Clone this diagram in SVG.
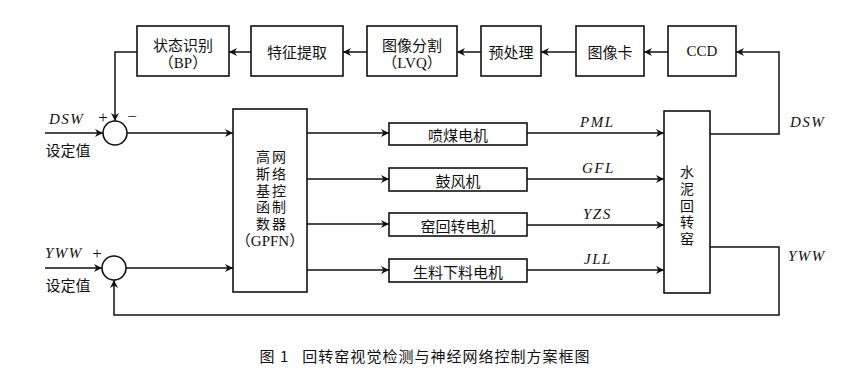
<svg xmlns="http://www.w3.org/2000/svg" width="852" height="383" viewBox="0 0 852 383">
<style>
.b{fill:#fff;stroke:#111;stroke-width:1.6}
.l{fill:none;stroke:#111;stroke-width:1.5}
.t{font-family:"Noto Sans CJK SC","Liberation Serif",sans-serif;font-size:15px;fill:#111;text-anchor:middle;dominant-baseline:central}
.v{font-family:"Noto Sans CJK SC",sans-serif;font-size:14px;fill:#111;writing-mode:vertical-rl;letter-spacing:2.6px}
.s{font-family:"Liberation Serif","Noto Sans CJK SC",serif;font-size:15px;fill:#111;text-anchor:middle;dominant-baseline:central}
.i{font-family:"Liberation Serif",serif;font-style:italic;font-size:15px;fill:#111;letter-spacing:1.5px}
.p{font-family:"Liberation Serif",serif;font-size:17px;fill:#111;text-anchor:middle;dominant-baseline:central}
</style>
<defs>
<marker id="a" viewBox="0 0 10 10" refX="10" refY="5" markerWidth="10" markerHeight="8" markerUnits="userSpaceOnUse" orient="auto">
<path d="M0,0 L10,5 L0,10 L3,5 Z" fill="#111"/>
</marker>
</defs>
<rect width="852" height="383" fill="#fff"/>
<g id="bp"><rect class="b" x="137" y="26" width="92" height="50"/><text class="t" x="183" y="44">状态识别</text><text class="s" x="183" y="63">（BP）</text></g>
<g id="feature"><rect class="b" x="251" y="26" width="92" height="50"/><text class="t" x="297" y="51">特征提取</text></g>
<g id="lvq"><rect class="b" x="367" y="26" width="90" height="50"/><text class="t" x="412" y="44">图像分割</text><text class="s" x="412" y="63">（LVQ）</text></g>
<g id="pre"><rect class="b" x="481" y="26" width="60" height="50"/><text class="t" x="511" y="51">预处理</text></g>
<g id="card"><rect class="b" x="576" y="26" width="68" height="50"/><text class="t" x="610" y="51">图像卡</text></g>
<g id="ccd"><rect class="b" x="668" y="26" width="68" height="50"/><text class="s" x="702" y="51">CCD</text></g>
<g id="sum1"><circle class="b" cx="115" cy="133" r="12"/><text class="p" x="103" y="117">+</text><text class="p" x="132" y="116">−</text></g>
<g id="sum2"><circle class="b" cx="114" cy="268" r="12"/></g>
<g id="gpfn"><rect class="b" x="233" y="109" width="74" height="183"/>
<text class="v" x="263" y="150">高斯基函数</text><text class="v" x="279" y="150">网络控制器</text><text class="s" x="270" y="241">（GPFN）</text></g>
<g id="m1"><rect class="b" x="389" y="123" width="138" height="22"/><text class="t" x="458" y="134">喷煤电机</text></g>
<g id="m2"><rect class="b" x="389" y="168" width="138" height="23"/><text class="t" x="458" y="180">鼓风机</text></g>
<g id="m3"><rect class="b" x="389" y="213" width="138" height="23"/><text class="t" x="458" y="225">窑回转电机</text></g>
<g id="m4"><rect class="b" x="389" y="259" width="138" height="23"/><text class="t" x="458" y="271">生料下料电机</text></g>
<g id="kiln"><rect class="b" x="664" y="111" width="46" height="182"/>
<text class="v" x="687" y="165">水泥回转窑</text></g>
<g id="connectors">
<path class="l" marker-end="url(#a)" d="M251,52 H229"/>
<path class="l" marker-end="url(#a)" d="M367,52 H343"/>
<path class="l" marker-end="url(#a)" d="M481,52 H457"/>
<path class="l" marker-end="url(#a)" d="M576,52 H541"/>
<path class="l" marker-end="url(#a)" d="M668,52 H644"/>
<path class="l" marker-end="url(#a)" d="M710,134 H779 V52 H736"/>
<path class="l" marker-end="url(#a)" d="M137,52 H115 V121"/>
<path class="l" marker-end="url(#a)" d="M45,133 H103"/>
<path class="l" marker-end="url(#a)" d="M127,133 H233"/>
<path class="l" marker-end="url(#a)" d="M45,268 H102"/>
<path class="l" marker-end="url(#a)" d="M126,268 H233"/>
<path class="l" marker-end="url(#a)" d="M307,133 H389"/>
<path class="l" marker-end="url(#a)" d="M307,179 H389"/>
<path class="l" marker-end="url(#a)" d="M307,224 H389"/>
<path class="l" marker-end="url(#a)" d="M307,270 H389"/>
<path class="l" marker-end="url(#a)" d="M527,133 H664"/>
<path class="l" marker-end="url(#a)" d="M527,179 H664"/>
<path class="l" marker-end="url(#a)" d="M527,225 H664"/>
<path class="l" marker-end="url(#a)" d="M527,270 H664"/>
<path class="l" marker-end="url(#a)" d="M710,247 H779 V315 H114 V280"/>
</g>
<g id="labels">
<text class="i" x="49" y="124">DSW</text>
<text class="t" x="68" y="149">设定值</text>
<text class="i" x="45" y="258">YWW</text><text class="p" x="97" y="253">+</text>
<text class="t" x="68" y="284">设定值</text>
<text class="i" x="580" y="127">PML</text>
<text class="i" x="582" y="173">GFL</text>
<text class="i" x="583" y="219">YZS</text>
<text class="i" x="584" y="264">JLL</text>
<text class="i" x="790" y="127">DSW</text>
<text class="i" x="788" y="261">YWW</text>
</g>
<text class="t" x="425" y="355" style="letter-spacing:1px" xml:space="preserve">图 1   回转窑视觉检测与神经网络控制方案框图</text>
</svg>
